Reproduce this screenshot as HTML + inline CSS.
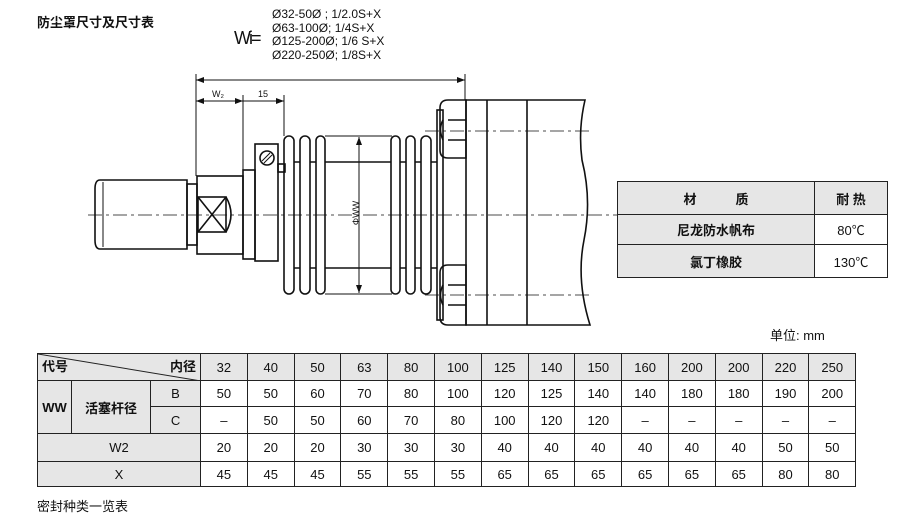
<!DOCTYPE html>
<html><head><meta charset="utf-8"><style>
body{margin:0;background:#fff;width:901px;height:514px;overflow:hidden;position:relative;font-family:"Liberation Sans","Noto Sans CJK SC",sans-serif;color:#111}
.t{position:absolute;white-space:nowrap}
table{border-collapse:collapse;position:absolute;table-layout:fixed}
td{border:1.5px solid #222;text-align:center;padding:0;font-size:13px;overflow:hidden}
.g{background:#e6e6e6}
</style></head><body>
<div class="t" style="left:37px;top:12px;font-size:13px;font-weight:bold">防尘罩尺寸及尺寸表</div>
<div class="t" style="left:234px;top:28px;font-size:18px;letter-spacing:-2px">Wi=</div>
<div class="t" style="left:272px;top:8px;font-size:12px;line-height:13.5px;font-family:'Liberation Sans',sans-serif">Ø32-50Ø ; 1/2.0S+X<br>Ø63-100Ø; 1/4S+X<br>Ø125-200Ø; 1/6 S+X<br>Ø220-250Ø; 1/8S+X</div>

<svg width="901" height="514" style="position:absolute;left:0;top:0" fill="none" stroke="#111" stroke-width="1.6">
<defs><marker id="a" markerWidth="8" markerHeight="6" refX="8" refY="3" orient="auto-start-reverse"><path d="M0,0L8,3L0,6z" fill="#111" stroke="none"/></marker></defs>
<g stroke-width="1">
<line x1="196" y1="80" x2="465" y2="80" marker-start="url(#a)" marker-end="url(#a)"/>
<line x1="196" y1="74" x2="196" y2="176"/><line x1="465" y1="74" x2="465" y2="100"/>
<line x1="196" y1="101" x2="243" y2="101" marker-start="url(#a)" marker-end="url(#a)"/>
<line x1="243" y1="101" x2="284" y2="101" marker-end="url(#a)"/>
<line x1="243" y1="95" x2="243" y2="170"/><line x1="284" y1="95" x2="284" y2="136"/>
<line x1="359" y1="137" x2="359" y2="293" marker-start="url(#a)" marker-end="url(#a)"/>
<line x1="325" y1="136" x2="392" y2="136"/><line x1="325" y1="294" x2="392" y2="294"/>
</g>
<g stroke-width="0.8" stroke-dasharray="14,4,3,4">
<line x1="88" y1="215" x2="625" y2="215"/>
<line x1="425" y1="131" x2="590" y2="131"/><line x1="425" y1="295" x2="590" y2="295"/>
</g>
<path d="M100,180H187V249H100Q95,249 95,240V189Q95,180 100,180Z"/>
<line x1="103" y1="182" x2="103" y2="247" stroke-width="1"/>
<rect x="187" y="184" width="10" height="61"/>
<rect x="197" y="176" width="46" height="78"/>
<rect x="198" y="197" width="28" height="35"/>
<path d="M198,197L226,232M226,197L198,232M226,197Q236,214 226,232"/>
<rect x="243" y="170" width="12" height="89"/>
<rect x="255" y="144" width="23" height="117"/>
<circle cx="267" cy="158" r="7"/><path d="M262,161L270,153M264,163L272,155" stroke-width="1"/>
<rect x="278" y="164" width="7" height="8"/>
<g>
<rect x="284" y="136" width="10" height="158" rx="5"/>
<rect x="300" y="136" width="10" height="158" rx="5"/>
<rect x="316" y="136" width="9" height="158" rx="4.5"/>
<rect x="391" y="136" width="9" height="158" rx="4.5"/>
<rect x="406" y="136" width="9" height="158" rx="4.5"/>
<rect x="421" y="136" width="10" height="158" rx="5"/>
</g>
<path d="M294,162H300M310,162H316M325,162H391M400,162H406M415,162H421M431,162H437"/>
<path d="M294,268H300M310,268H316M325,268H391M400,268H406M415,268H421M431,268H437"/>
<rect x="437" y="110" width="6" height="210"/>
<path d="M448,100H466V158H448Q440,158 440,150V108Q440,100 448,100Z"/>
<path d="M448,120H466M448,140H466M443,120Q438,129 443,140"/>
<path d="M448,265H466V325H448Q440,325 440,317V273Q440,265 448,265Z"/>
<path d="M448,285H466M448,305H466M443,285Q438,295 443,305"/>
<path d="M466,100H585Q578,130 582,160Q592,200 584,240Q576,280 590,325H466Z"/>
<line x1="487" y1="100" x2="487" y2="325"/><line x1="527" y1="100" x2="527" y2="325"/>
</svg>
<div class="t" style="left:212px;top:89px;font-size:9px">W₂</div>
<div class="t" style="left:258px;top:89px;font-size:9px">15</div>
<div class="t" style="left:344px;top:208px;font-size:9px;transform:rotate(-90deg)">ΦWW</div>

<table style="left:617px;top:181px;width:270px;height:96px">
<colgroup><col style="width:197px"><col style="width:73px"></colgroup>
<tr style="height:33px"><td class="g" style="font-weight:bold">材　　　质</td><td class="g" style="font-weight:bold">耐 热</td></tr>
<tr style="height:30px"><td class="g" style="font-weight:bold">尼龙防水帆布</td><td>80℃</td></tr>
<tr style="height:33px"><td class="g" style="font-weight:bold">氯丁橡胶</td><td>130℃</td></tr>
</table>
<div class="t" style="left:770px;top:325px;font-size:13px">单位: mm</div>

<table style="left:37px;top:353px;width:818px;height:133px;font-size:13px">
<colgroup><col style="width:34px"><col style="width:79px"><col style="width:50px">
<col style="width:46.8px"><col style="width:46.8px"><col style="width:46.8px"><col style="width:46.8px"><col style="width:46.8px"><col style="width:46.8px"><col style="width:46.8px"><col style="width:46.8px"><col style="width:46.8px"><col style="width:46.8px"><col style="width:46.8px"><col style="width:46.8px"><col style="width:46.8px"><col style="width:46.8px"></colgroup>
<tr style="height:27px"><td colspan="3" class="g" style="position:relative;font-weight:bold">
<svg width="163" height="27" style="position:absolute;left:0;top:0"><line x1="0" y1="0" x2="163" y2="27" stroke="#222" stroke-width="1"/></svg>
<span style="position:absolute;left:4px;top:2px">代号</span><span style="position:absolute;right:4px;top:2px">内径</span></td>
<td class="g">32</td><td class="g">40</td><td class="g">50</td><td class="g">63</td><td class="g">80</td><td class="g">100</td><td class="g">125</td><td class="g">140</td><td class="g">150</td><td class="g">160</td><td class="g">200</td><td class="g">200</td><td class="g">220</td><td class="g">250</td></tr>
<tr style="height:26px"><td rowspan="2" class="g" style="font-weight:bold">WW</td><td rowspan="2" class="g" style="font-weight:bold">活塞杆径</td><td class="g">B</td>
<td>50</td><td>50</td><td>60</td><td>70</td><td>80</td><td>100</td><td>120</td><td>125</td><td>140</td><td>140</td><td>180</td><td>180</td><td>190</td><td>200</td></tr>
<tr style="height:27px"><td class="g">C</td><td>–</td><td>50</td><td>50</td><td>60</td><td>70</td><td>80</td><td>100</td><td>120</td><td>120</td><td>–</td><td>–</td><td>–</td><td>–</td><td>–</td></tr>
<tr style="height:28px"><td colspan="3" class="g">W2</td><td>20</td><td>20</td><td>20</td><td>30</td><td>30</td><td>30</td><td>40</td><td>40</td><td>40</td><td>40</td><td>40</td><td>40</td><td>50</td><td>50</td></tr>
<tr style="height:25px"><td colspan="3" class="g">X</td><td>45</td><td>45</td><td>45</td><td>55</td><td>55</td><td>55</td><td>65</td><td>65</td><td>65</td><td>65</td><td>65</td><td>65</td><td>80</td><td>80</td></tr>
</table>
<div class="t" style="left:37px;top:496px;font-size:13px">密封种类一览表</div>
</body></html>
